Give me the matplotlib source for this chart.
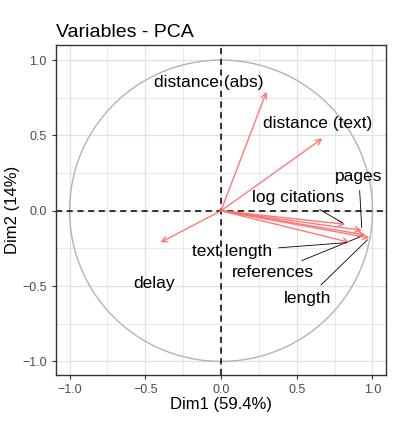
import numpy as np
import matplotlib.pyplot as plt

plt.rcParams['font.family'] = ['Liberation Sans', 'DejaVu Sans']

# variable coordinates on Dim1 / Dim2
variables = ['distance (abs)', 'distance (text)', 'delay', 'log citations',
             'pages', 'references', 'length', 'text length']
dim1 = [0.30, 0.67, -0.40, 0.82, 0.93, 0.95, 0.98, 0.85]
dim2 = [0.79, 0.48, -0.21, -0.09, -0.13, -0.16, -0.18, -0.21]

# label positions (repelled)
lab_x = [-0.08, 0.64, -0.44, 0.51, 0.91, 0.34, 0.57, 0.07]
lab_y = [0.85, 0.58, -0.48, 0.09, 0.23, -0.41, -0.58, -0.27]
leader = [False, False, False, True, True, True, True, True]

fig = plt.figure(figsize=(3.94, 4.33), dpi=100)
ax = fig.add_axes([0.142, 0.134, 0.838, 0.762])

ax.set_xlim(-1.09, 1.09)
ax.set_ylim(-1.09, 1.1)
ax.set_xticks([-1.0, -0.5, 0.0, 0.5, 1.0])
ax.set_yticks([-1.0, -0.5, 0.0, 0.5, 1.0])
ax.set_xticks(np.arange(-1.0, 1.01, 0.25), minor=True)
ax.set_yticks(np.arange(-1.0, 1.01, 0.25), minor=True)
ax.grid(True, which='major', color='#e0e0e0', lw=0.9)
ax.grid(True, which='minor', color='#e6e6e6', lw=0.6)
ax.set_axisbelow(True)
ax.tick_params(which='minor', length=0)
ax.tick_params(which='major', length=3, color='#333333', labelsize=9, labelcolor='#4d4d4d')
for s in ax.spines.values():
    s.set_color('#333333')
    s.set_linewidth(1.0)

t = np.linspace(0, 2 * np.pi, 400)
ax.plot(np.cos(t), np.sin(t), color='#b3b3b3', lw=1)
ax.axhline(0, color='black', ls='--', lw=1.1, dashes=(4, 3))
ax.axvline(0, color='black', ls='--', lw=1.1, dashes=(4, 3))

for i, name in enumerate(variables):
    ax.annotate('', xy=(dim1[i], dim2[i]), xytext=(0, 0),
                arrowprops=dict(arrowstyle='->', color='#ff6b6b', lw=1.0,
                                shrinkA=0, shrinkB=0, mutation_scale=10, alpha=0.9))
    if leader[i]:
        ax.annotate(name, xy=(dim1[i], dim2[i]), xytext=(lab_x[i], lab_y[i]),
                    ha='center', va='center', fontsize=12.5,
                    arrowprops=dict(arrowstyle='-', color='black', lw=0.6,
                                    shrinkA=3, shrinkB=2))
    else:
        ax.text(lab_x[i], lab_y[i], name, ha='center', va='center', fontsize=12.5)

ax.set_xlabel('Dim1 (59.4%)', fontsize=12, labelpad=1)
ax.set_ylabel('Dim2 (14%)', fontsize=12, labelpad=2)
ax.set_title('Variables - PCA', fontsize=14, loc='left', pad=6)

plt.savefig('out.png', dpi=100)
plt.close()
